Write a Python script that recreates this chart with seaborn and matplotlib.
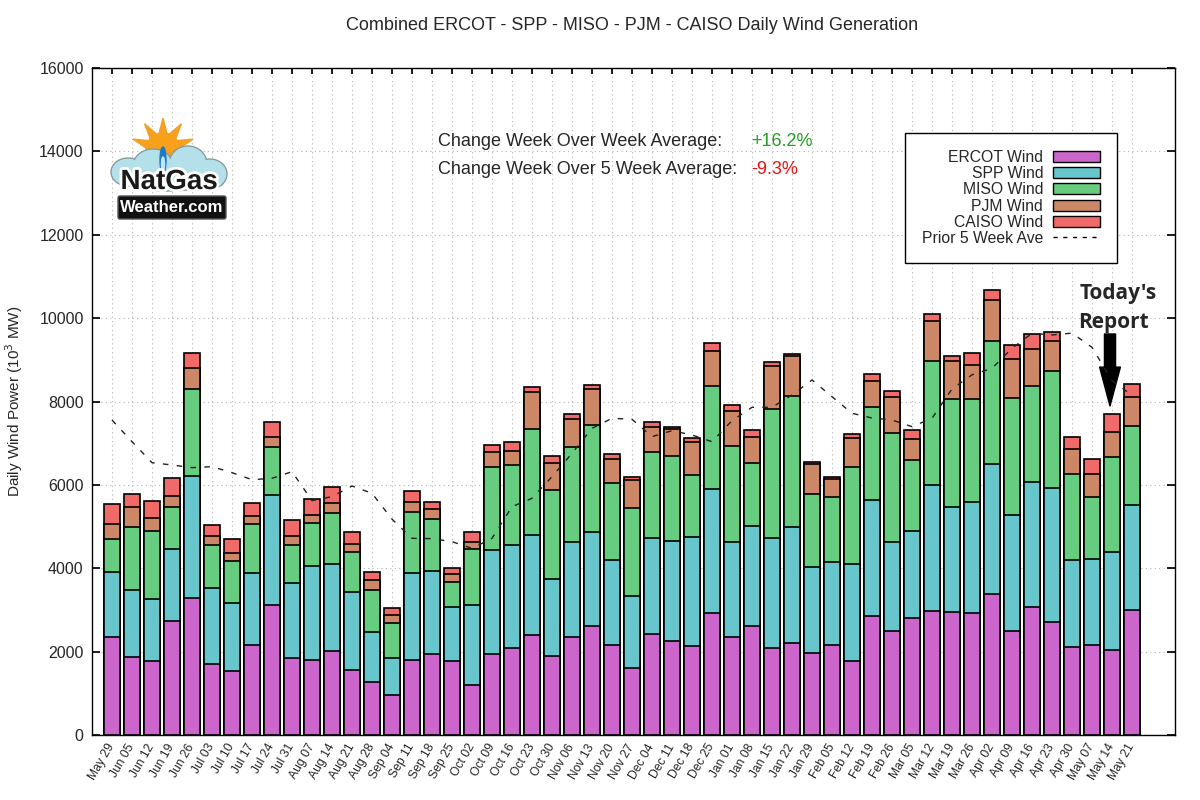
import numpy as np
import pandas as pd
import matplotlib
matplotlib.use("Agg")
import matplotlib.pyplot as plt
import seaborn as sns
from matplotlib.patches import Patch, Ellipse, Polygon, FancyBboxPatch
from matplotlib.lines import Line2D
import matplotlib.patheffects as pe

# ---------------- data ----------------
weeks = ["May 29", "Jun 05", "Jun 12", "Jun 19", "Jun 26", "Jul 03", "Jul 10", "Jul 17",
         "Jul 24", "Jul 31", "Aug 07", "Aug 14", "Aug 21", "Aug 28", "Sep 04", "Sep 11",
         "Sep 18", "Sep 25", "Oct 02", "Oct 09", "Oct 16", "Oct 23", "Oct 30", "Nov 06",
         "Nov 13", "Nov 20", "Nov 27", "Dec 04", "Dec 11", "Dec 18", "Dec 25", "Jan 01",
         "Jan 08", "Jan 15", "Jan 22", "Jan 29", "Feb 05", "Feb 12", "Feb 19", "Feb 26",
         "Mar 05", "Mar 12", "Mar 19", "Mar 26", "Apr 02", "Apr 09", "Apr 16", "Apr 23",
         "Apr 30", "May 07", "May 14", "May 21"]

ercot = [2340, 1860, 1770, 2730, 3280, 1700, 1530, 2150, 3110, 1840, 1790, 2010, 1550,
         1260, 950, 1790, 1940, 1770, 1190, 1940, 2080, 2390, 1890, 2340, 2610, 2150,
         1600, 2420, 2250, 2130, 2920, 2340, 2610, 2080, 2200, 1960, 2150, 1770, 2850,
         2490, 2800, 2970, 2940, 2920, 3380, 2490, 3060, 2700, 2100, 2150, 2030, 2990]
spp = [1580, 1630, 1490, 1730, 2930, 1820, 1630, 1730, 2640, 1800, 2260, 2090, 1870,
       1200, 890, 2090, 1990, 1300, 1920, 2490, 2470, 2400, 1850, 2300, 2260, 2040,
       1730, 2300, 2400, 2620, 2980, 2300, 2400, 2640, 2780, 2060, 1990, 2330, 2780,
       2140, 2090, 3020, 2520, 2660, 3120, 2780, 3000, 3220, 2090, 2060, 2370, 2520]
miso = [770, 1490, 1630, 1010, 2090, 1030, 1010, 1180, 1150, 910, 1030, 1220, 960,
        1030, 840, 1460, 1250, 600, 1340, 1990, 1920, 2540, 2140, 2280, 2570, 1850,
        2110, 2060, 2040, 1490, 2470, 2300, 1510, 3100, 3140, 1750, 1580, 2330, 2230,
        2620, 1700, 2970, 2610, 2470, 2950, 2810, 2300, 2810, 2060, 1490, 2280, 1900]
pjm = [380, 500, 310, 260, 500, 220, 190, 190, 240, 220, 190, 240, 190,
       240, 190, 260, 240, 190, 190, 360, 340, 890, 650, 650, 860, 580,
       670, 620, 650, 790, 840, 840, 620, 1030, 980, 720, 430, 700, 620,
       860, 500, 960, 890, 820, 980, 940, 890, 720, 600, 550, 580, 700]
caiso = [460, 310, 410, 430, 360, 260, 340, 310, 360, 380, 380, 380, 290,
         170, 170, 260, 170, 140, 220, 170, 220, 120, 170, 140, 100, 120,
         70, 100, 50, 100, 190, 140, 170, 100, 30, 50, 30, 100, 190,
         140, 220, 190, 120, 290, 240, 340, 360, 220, 310, 360, 430, 310]
prior5 = [7556, 7036, 6533, 6477, 6413, 6437, 6293, 6125, 6157, 6317, 5622, 5718, 5973,
          5798, 5178, 4718, 4710, 4638, 4478, 4718, 5478, 5678, 6197, 6757, 7357, 7597,
          7573, 7157, 7300, 7197, 7036, 7541, 7861, 7861, 8156, 8516, 8116, 7717, 7604,
          7556, 7397, 7597, 8300, 8640, 8796, 9276, 9636, 9596, 9640, 9300, 8500, 8150]

series_names = ["ERCOT Wind", "SPP Wind", "MISO Wind", "PJM Wind", "CAISO Wind"]
series_colors = ["#cc66cc", "#66c6cc", "#66cc80", "#cc8866", "#f06a6a"]

wow_text = "+16.2%"
w5_text = "-9.3%"

# ---------------- plotting ----------------
sns.set_theme(style="white")
plt.rcParams['font.family'] = ['Liberation Sans', 'DejaVu Sans']

fig = plt.figure(figsize=(12, 8), dpi=100)
ax = fig.add_axes([92 / 1200, 65 / 800, (1175 - 92) / 1200, (735 - 68) / 800])

layers = np.array([ercot, spp, miso, pjm, caiso], dtype=float)
cum = np.cumsum(layers, axis=0)
df = pd.DataFrame({"week": weeks})
for i in range(5):
    df[series_names[i]] = cum[i]

for i in reversed(range(5)):
    sns.barplot(data=df, x="week", y=series_names[i], order=weeks,
                color=series_colors[i], saturation=1, width=0.8,
                edgecolor="black", linewidth=1.2, errorbar=None, ax=ax, zorder=2)

xpos = np.arange(len(weeks))
ax.plot(xpos, prior5, color="#222222", lw=1.0, linestyle=(0, (4, 6)), zorder=4)

ax.set_xlim(-1, 53.15)
ax.set_ylim(0, 16000)
ax.set_yticks(np.arange(0, 16001, 2000))
ax.set_xticks(xpos)
ax.set_xticklabels(weeks, rotation=60, ha="right", va="center",
                   rotation_mode="anchor", fontsize=8.7)
ax.tick_params(axis="x", direction="in", length=4, top=True, bottom=True, pad=7,
               color="black")
ax.tick_params(axis="y", direction="in", length=6, left=True, right=True,
               labelsize=11.5, color="black", pad=6)
ax.set_xlabel("")
ax.set_ylabel("Daily Wind Power (10$^3$ MW)", fontsize=11)
ax.yaxis.set_label_coords((25 - 92) / 1083, 0.5)
ax.grid(True, color="#b5b5b5", linestyle=(0, (1, 3)), linewidth=0.8)
ax.set_axisbelow(True)
for s in ax.spines.values():
    s.set_color("black")
    s.set_linewidth(1.0)

# legend
handles = [Patch(facecolor=c, edgecolor="black", linewidth=1.0) for c in series_colors]
handles.append(Line2D([0], [0], color="black", lw=1.0, linestyle=(0, (3, 4))))
labels = series_names + ["Prior 5 Week Ave"]
leg = ax.legend(handles, labels, loc="upper right",
                bbox_to_anchor=(1117 / 1200, 1 - 133 / 800),
                bbox_transform=fig.transFigure, markerfirst=False, fontsize=11.3,
                frameon=True, fancybox=False, edgecolor="black", framealpha=1,
                handlelength=3.0, handleheight=0.7, labelspacing=0.07,
                borderpad=1.1, handletextpad=0.6, borderaxespad=0)
leg.get_frame().set_linewidth(1.0)

# title & annotations
fig.text(632 / 1200, 1 - 25 / 800,
         "Combined ERCOT - SPP - MISO - PJM - CAISO Daily Wind Generation",
         ha="center", va="center", fontsize=13)
fig.text(438 / 1200, 1 - 141 / 800, "Change Week Over Week Average:",
         ha="left", va="center", fontsize=13)
fig.text(751 / 1200, 1 - 141 / 800, wow_text, ha="left", va="center",
         fontsize=13, color="#22a022")
fig.text(438 / 1200, 1 - 169 / 800, "Change Week Over 5 Week Average:",
         ha="left", va="center", fontsize=13)
fig.text(751 / 1200, 1 - 169 / 800, w5_text, ha="left", va="center",
         fontsize=13, color="#ee1111")

fig.text(1118 / 1200, 1 - 293 / 800, "Today's", ha="center", va="center",
         fontsize=15, fontweight="bold", family=["Open Sans", "DejaVu Sans"])
fig.text(1114 / 1200, 1 - 322 / 800, "Report", ha="center", va="center",
         fontsize=15, fontweight="bold", family=["Open Sans", "DejaVu Sans"])
ax.annotate("", xy=(1110, 800 - 406), xycoords="figure pixels",
            xytext=(1110, 800 - 334), textcoords="figure pixels",
            arrowprops=dict(facecolor="black", edgecolor="black", width=8,
                            headwidth=15, headlength=28, shrink=0))

# logo (approximation)
lax = fig.add_axes([108 / 1200, 1 - 222 / 800, 122 / 1200, 104 / 800])
lax.set_xlim(0, 122)
lax.set_ylim(0, 104)
lax.axis("off")
cx, cy = 55, 72
for ang in np.linspace(20, 160, 5):
    a = np.deg2rad(ang)
    tip = (cx + 32 * np.cos(a), cy + 32 * np.sin(a))
    b1 = (cx + 14 * np.cos(a + 0.35), cy + 14 * np.sin(a + 0.35))
    b2 = (cx + 14 * np.cos(a - 0.35), cy + 14 * np.sin(a - 0.35))
    lax.add_patch(Polygon([tip, b1, b2], closed=True, color="#f5a020", zorder=1))
lax.add_patch(Ellipse((cx, cy), 34, 34, color="#f7a11a", zorder=2))
for (ex, ey, w, h) in [(20, 50, 34, 28), (45, 56, 40, 34), (80, 58, 38, 36),
                       (102, 48, 34, 30), (60, 44, 98, 26)]:
    lax.add_patch(Ellipse((ex, ey), w, h, facecolor="#b4e0ea",
                          edgecolor="#8a9aa0", lw=1.0, zorder=3))
for (ex, ey, w, h) in [(20, 50, 32, 26), (45, 56, 38, 32), (80, 58, 36, 34),
                       (102, 48, 32, 28), (60, 44, 96, 24)]:
    lax.add_patch(Ellipse((ex, ey), w, h, facecolor="#b4e0ea", lw=0, zorder=4))
lax.add_patch(Ellipse((cx, 62), 6, 26, color="#1f78c8", zorder=5))
lax.add_patch(Ellipse((cx, 58), 3, 14, color="#bfe6ff", zorder=6))
lax.text(61, 40, "NatGas", ha="center", va="center", fontsize=20,
         fontweight="bold", color="#1a1a1a", zorder=7,
         path_effects=[pe.withStroke(linewidth=4, foreground="white")])
lax.add_patch(FancyBboxPatch((10, 3), 108, 23, boxstyle="round,pad=0,rounding_size=2",
                             facecolor="#111111", edgecolor="#555555", lw=1, zorder=7))
lax.text(64, 14.5, "Weather.com", ha="center", va="center", fontsize=12,
         fontweight="bold", color="white", zorder=8)

fig.savefig("out.png", dpi=100)
